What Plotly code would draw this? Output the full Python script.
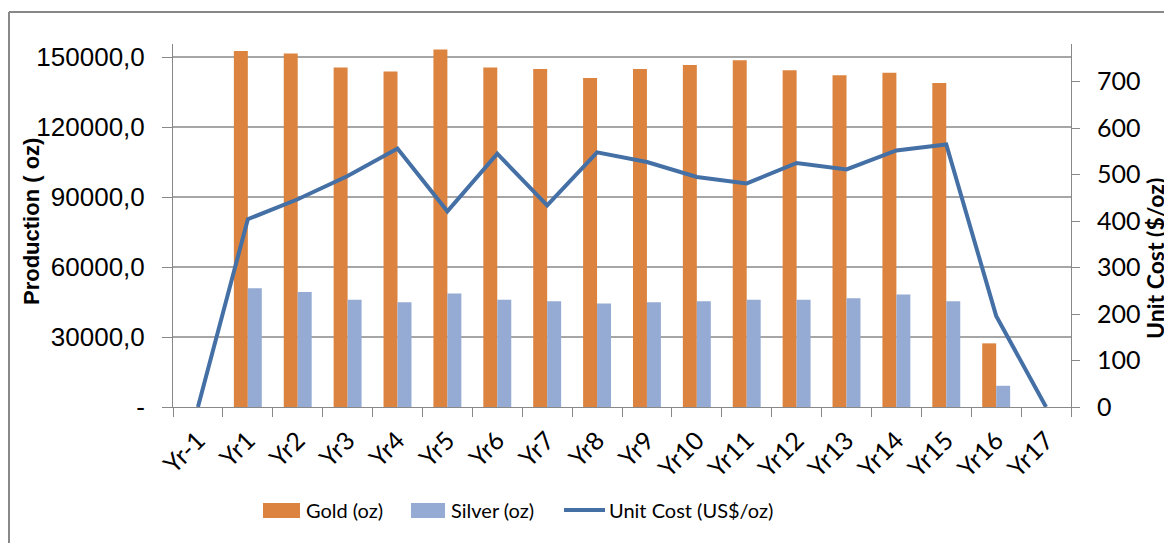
import plotly.graph_objects as go

categories = ["Yr-1", "Yr1", "Yr2", "Yr3", "Yr4", "Yr5", "Yr6", "Yr7", "Yr8", "Yr9",
              "Yr10", "Yr11", "Yr12", "Yr13", "Yr14", "Yr15", "Yr16", "Yr17"]
gold_oz = [0, 152700, 151600, 145600, 143900, 153300, 145600, 145000, 141100, 145000,
           146700, 148700, 144400, 142300, 143400, 139000, 27300, 0]
silver_oz = [0, 50900, 49300, 46000, 44900, 48700, 46000, 45400, 44400, 44900,
             45400, 46000, 46000, 46600, 48300, 45400, 9100, 0]
unit_cost = [0, 404, 447, 497, 556, 421, 545, 434, 548, 527,
             495, 481, 525, 511, 552, 565, 196, 0]

series_names = ["Gold (oz)", "Silver (oz)", "Unit Cost (US$/oz)"]
left_tickvals = [0, 30000, 60000, 90000, 120000, 150000]
left_ticktext = ["-", "30000,0", "60000,0", "90000,0", "120000,0", "150000,0"]
right_tickvals = [0, 100, 200, 300, 400, 500, 600, 700]

GOLD, SILVER, LINE = "#DC843F", "#95ABD3", "#4470A6"
OFF = 8  # page body margin offset
W, H = 1172 - OFF, 543 - OFF
L, R, T, B = 173 - OFF, 1071 - OFF, 44 - OFF, 407 - OFF


def px(x):
    return (x - OFF - L) / (R - L)


def py(y):
    return (B - (y - OFF)) / (B - T)


fig = go.Figure()
fig.add_trace(go.Bar(x=categories, y=gold_oz, name=series_names[0],
                     marker=dict(color=GOLD, line=dict(width=0))))
fig.add_trace(go.Bar(x=categories, y=silver_oz, name=series_names[1],
                     marker=dict(color=SILVER, line=dict(width=0))))
fig.add_trace(go.Scatter(x=categories, y=unit_cost, name=series_names[2],
                         mode="lines", yaxis="y2",
                         line=dict(color=LINE, width=4)))

fig.update_layout(
    width=W, height=H,
    margin=dict(l=L, r=W - R, t=T, b=H - B, autoexpand=False),
    paper_bgcolor="white", plot_bgcolor="white",
    barmode="group", bargap=0.44, bargroupgap=0,
    font=dict(family="Lato, Liberation Sans, sans-serif", color="#000000"),
    showlegend=False,
    xaxis=dict(
        type="category", tickangle=-45, tickfont=dict(family="Lato", size=25),
        showline=True, linecolor="#888888", linewidth=1, automargin=False,
        ticks="outside", tickson="boundaries", ticklen=9, tickcolor="#888888",
        ticklabelstandoff=8,
        showgrid=False, range=[-0.5, 17.5],
    ),
    yaxis=dict(
        range=[0, 155700], tickvals=left_tickvals, ticktext=left_ticktext,
        tickfont=dict(family="Liberation Sans", size=26), automargin=False,
        showline=True, linecolor="#888888", linewidth=1,
        ticks="outside", ticklen=10, tickcolor="#888888", ticklabelstandoff=12,
        showgrid=True, gridcolor="#A6A6A6", gridwidth=1.5, zeroline=False,
    ),
    yaxis2=dict(
        range=[0, 781], tickvals=right_tickvals, overlaying="y", side="right",
        tickfont=dict(family="Lato", size=25), automargin=False,
        showline=True, linecolor="#888888", linewidth=1,
        ticks="outside", ticklen=8, tickcolor="#888888", ticklabelstandoff=12,
        showgrid=False, zeroline=False,
    ),
)

# legend drawn as swatches + text (bottom of chart)
legend_y = 510
fig.add_shape(type="rect", xref="paper", yref="paper",
              x0=px(263), x1=px(300), y0=py(503), y1=py(518),
              fillcolor=GOLD, line=dict(width=0))
fig.add_shape(type="rect", xref="paper", yref="paper",
              x0=px(411), x1=px(445), y0=py(503), y1=py(518),
              fillcolor=SILVER, line=dict(width=0))
fig.add_shape(type="line", xref="paper", yref="paper",
              x0=px(564), x1=px(605), y0=py(510), y1=py(510),
              line=dict(color=LINE, width=4))
for name, xl in zip(series_names, [304, 449, 607]):
    fig.add_annotation(text=name, xref="paper", yref="paper", x=px(xl), y=py(legend_y),
                       xanchor="left", yanchor="middle", showarrow=False,
                       font=dict(family="Lato", size=20))

fig.add_annotation(text="<b>Production ( oz)</b>", xref="paper", yref="paper",
                   x=px(32), y=py(222), xanchor="center", yanchor="middle",
                   textangle=-90,
                   showarrow=False, font=dict(family="Liberation Sans", size=22))
fig.add_annotation(text="<b>Unit Cost ($/oz)</b>", xref="paper", yref="paper",
                   x=px(1171), y=py(259), xanchor="right", yanchor="middle",
                   textangle=-90, showarrow=False,
                   font=dict(family="Lato", size=23))

# outer chart frame (left and top edges visible)
fig.add_shape(type="line", xref="paper", yref="paper",
              x0=px(9), x1=px(1200), y0=py(12), y1=py(12),
              line=dict(color="#888888", width=2))
fig.add_shape(type="line", xref="paper", yref="paper",
              x0=px(9), x1=px(9), y0=py(12), y1=py(560),
              line=dict(color="#888888", width=2))

fig.write_html("out.html")
